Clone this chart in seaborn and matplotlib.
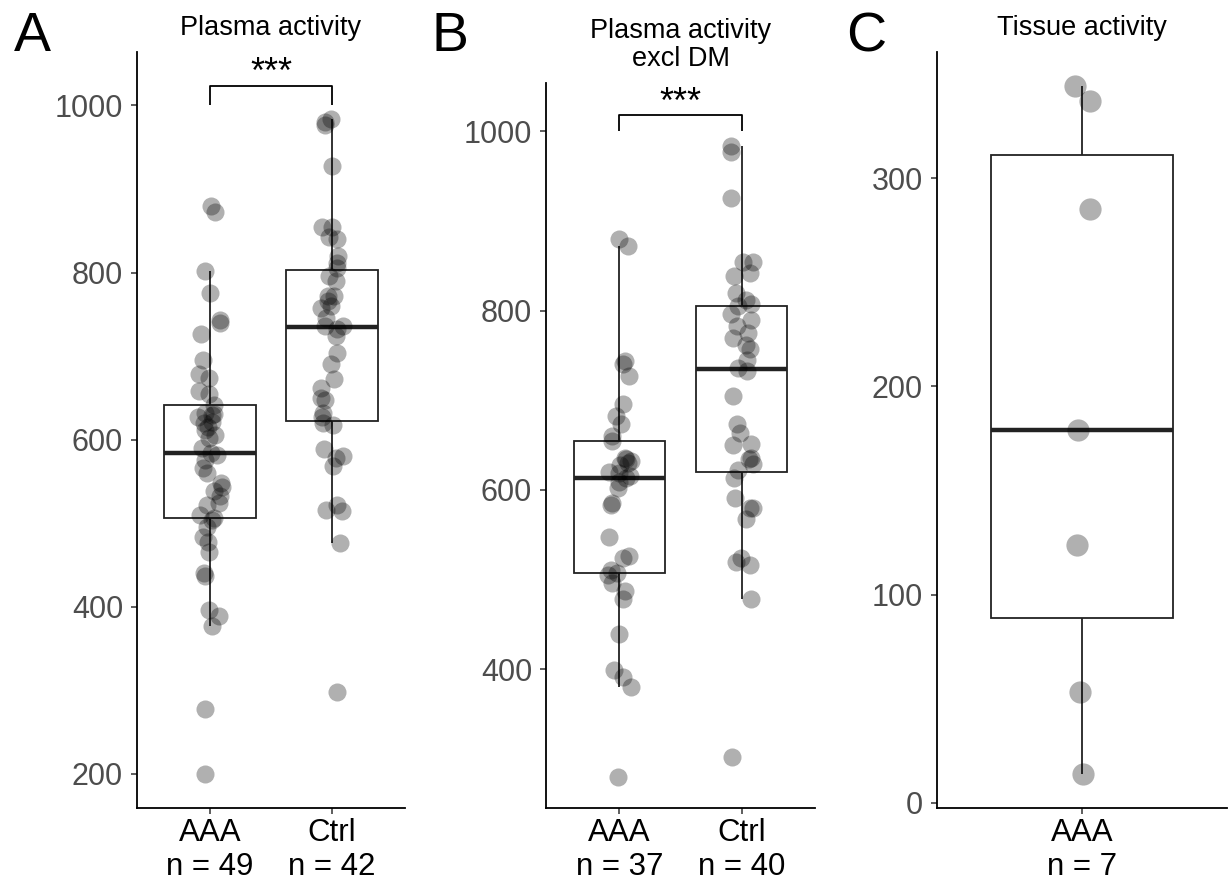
import numpy as np
import pandas as pd
import matplotlib
matplotlib.use("Agg")
import matplotlib.pyplot as plt
import seaborn as sns

# Panel A: plasma activity
plasma_aaa = [880, 872, 802, 775, 743, 740, 727, 695, 679, 674, 658, 654,
              642, 632, 631, 629, 627, 621, 620, 615, 612, 606, 602,
              590, 584, 582, 576, 566, 560, 548, 543, 538, 533, 524, 522, 510,
              506, 504, 495, 484, 477, 465, 440, 437, 396, 389, 377, 277, 200]
plasma_ctrl = [984, 980, 977, 927, 855, 854, 843, 840, 820, 812, 806, 796, 790,
               772, 772, 766, 760, 757, 745, 736, 736, 733, 724, 704, 690, 672,
               662, 650, 647, 632, 627, 620, 618, 589, 580, 578, 568, 522, 516,
               514, 476, 298]

# Panel B: plasma activity excluding DM
exdm_aaa = [880, 872, 744, 741, 727, 696, 682, 673, 660, 655, 636, 634, 632,
            630, 628, 620, 619, 615, 613, 609, 602, 585, 583, 547, 526, 524,
            511, 507, 505, 496, 487, 478, 439, 399, 391, 380, 280]
exdm_ctrl = [984, 977, 926, 854, 854, 842, 839, 820, 812, 807, 805, 796, 790,
             783, 775, 770, 762, 757, 745, 736, 733, 705, 674, 663, 651, 650,
             636, 634, 629, 622, 613, 591, 580, 580, 568, 524, 519, 516, 478, 302]

# Panel C: tissue activity
tissue_aaa = [344, 337, 285, 179, 124, 53, 14]

sns.set_style("ticks")
plt.rcParams["font.family"] = ["Liberation Sans", "DejaVu Sans"]
plt.rcParams["text.color"] = "black"

np.random.seed(3)

W, H = 1228, 880
fig = plt.figure(figsize=(W / 100, H / 100), dpi=100)
axA = fig.add_axes([137 / W, 1 - 808 / H, 268 / W, (808 - 52) / H])
axB = fig.add_axes([546 / W, 1 - 808 / H, 269 / W, (808 - 83) / H])
axC = fig.add_axes([937 / W, 1 - 808 / H, 290 / W, (808 - 52) / H])


def panel(ax, groups, title, ylim, yticks, bracket=None, size=13, jitter=0.1):
    rows = []
    for name, vals in groups:
        for v in vals:
            rows.append({"group": name, "value": v})
    df = pd.DataFrame(rows)
    order = [g[0] for g in groups]
    sns.boxplot(data=df, x="group", y="value", order=order, color="white",
                linecolor="#222222", linewidth=1.3, width=0.75,
                showfliers=False, showcaps=False,
                medianprops={"linewidth": 3.2, "color": "#222222"}, ax=ax)
    sns.stripplot(data=df, x="group", y="value", order=order, color="black",
                  alpha=0.31, size=size, jitter=jitter, linewidth=0, ax=ax)
    ax.set_xlim(-0.6, len(groups) - 0.4)
    ax.set_ylim(*ylim)
    ax.set_yticks(yticks)
    ax.set_xticks(range(len(groups)))
    ax.set_xticklabels([f"{name}\nn = {len(vals)}" for name, vals in groups])
    ax.set_xlabel("")
    ax.set_ylabel("")
    ax.set_title(title, fontsize=19.5, pad=12, linespacing=1.1, color="black")
    ax.tick_params(axis="y", labelsize=22, labelcolor="#4D4D4D", length=4,
                   width=1.1, color="#333333", pad=6)
    ax.tick_params(axis="x", labelsize=22.5, labelcolor="black", length=4,
                   width=1.1, color="#333333", pad=3)
    for s in ["top", "right"]:
        ax.spines[s].set_visible(False)
    for s in ["left", "bottom"]:
        ax.spines[s].set_linewidth(1.3)
        ax.spines[s].set_color("black")
    if bracket is not None:
        ax.plot([0, 0, 1, 1], [1000, bracket, bracket, 1000], color="black",
                lw=1.3, solid_capstyle="butt")
        ax.text(0.5, bracket - 6, "***", ha="center", va="bottom",
                fontsize=26, color="black")


panel(axA, [("AAA", plasma_aaa), ("Ctrl", plasma_ctrl)], "Plasma activity",
      (159, 1064), [200, 400, 600, 800, 1000], bracket=1023)
panel(axB, [("AAA", exdm_aaa), ("Ctrl", exdm_ctrl)], "Plasma activity\nexcl DM",
      (245, 1054), [400, 600, 800, 1000], bracket=1018)
panel(axC, [("AAA", tissue_aaa)], "Tissue activity",
      (-2.5, 360.5), [0, 100, 200, 300], size=16, jitter=0.05)

for x, letter in [(14, "A"), (432, "B"), (846, "C")]:
    fig.text(x / W, 1 - 51 / H, letter, fontsize=40, va="baseline", ha="left",
             color="black")

fig.savefig("out.png", dpi=100)
